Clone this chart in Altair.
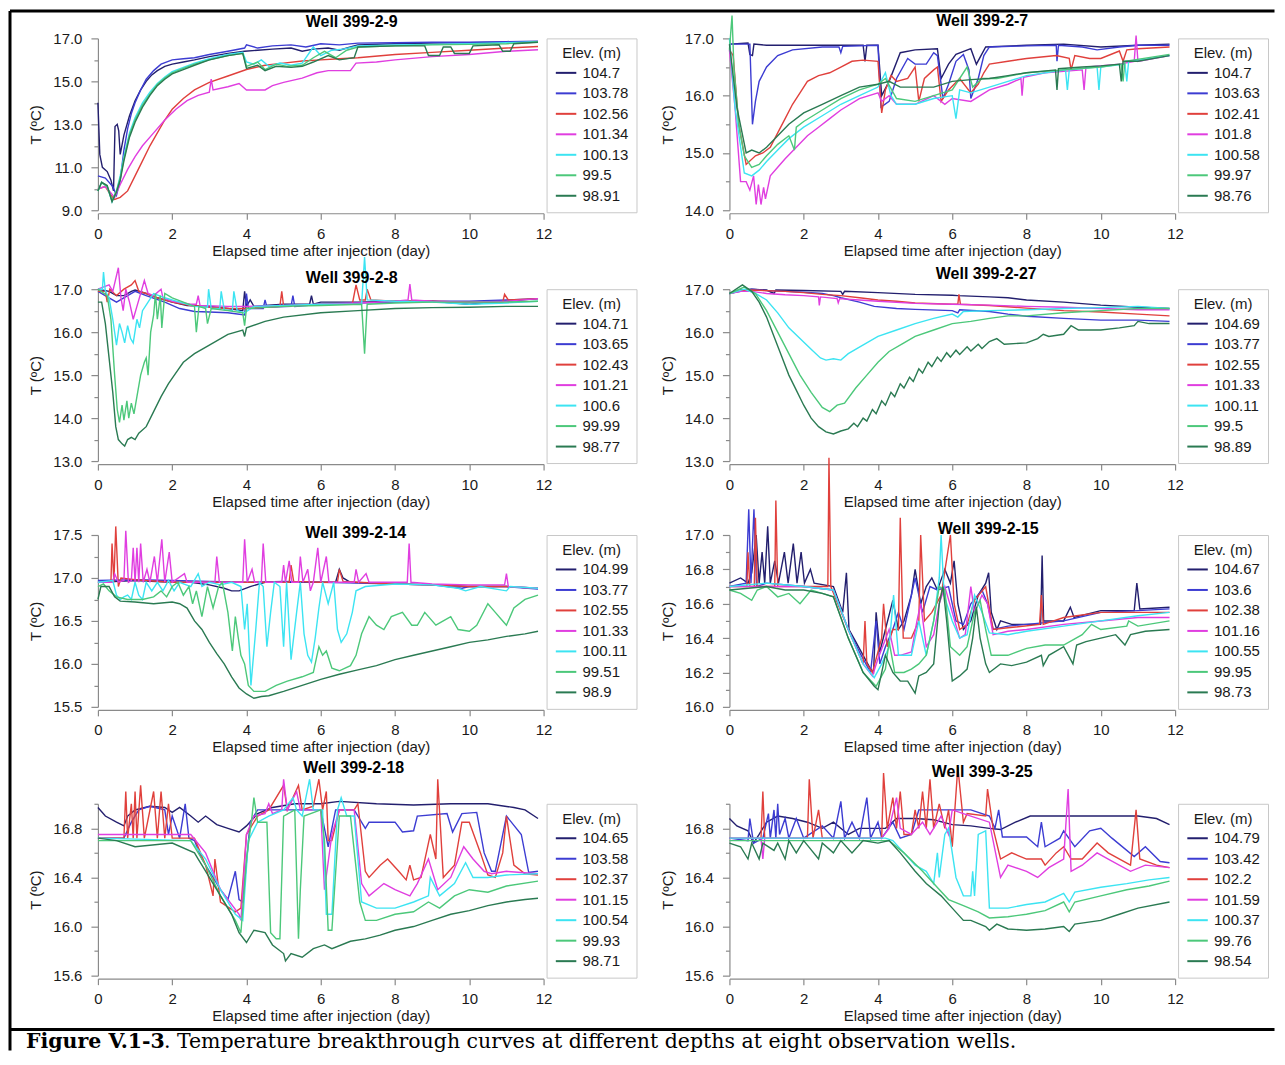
import altair as alt
import pandas as pd

SANS = "Liberation Sans"
SERIF = "DejaVu Serif"
COLORS = ["#231f6e", "#3c3cd2", "#e0403c", "#e03ee0", "#3ce4f2", "#4cc87a", "#2a7a52"]
X_TICKS = [0, 2, 4, 6, 8, 10, 12]
X_TITLE = "Elapsed time after injection (day)"
Y_TITLE = "T (ºC)"
LEGEND_TITLE = "Elev. (m)"
CAPTION_BOLD = "Figure V.1-3"
CAPTION_TEXT = ". Temperature breakthrough curves at different depths at eight observation wells."

# ---------------- Well 399-2-9 ----------------
W399_2_9 = {
    "104.7": [(0, 14.0), (0.05, 11.6), (0.12, 11.0), (0.25, 10.8), (0.35, 10.4), (0.42, 9.9), (0.46, 12.9), (0.52, 13.0), (0.56, 12.7), (0.6, 11.6), (0.7, 12.5), (0.85, 13.4), (1.0, 14.1), (1.15, 14.6), (1.3, 15.0), (1.45, 15.3), (1.6, 15.5), (1.8, 15.7), (2.0, 15.8), (2.3, 15.9), (2.6, 16.0), (3.0, 16.15), (3.5, 16.3), (3.95, 16.4), (4.3, 16.45), (4.7, 16.5), (5.2, 16.55), (5.5, 16.4), (5.8, 16.5), (6.2, 16.55), (6.5, 16.45), (6.8, 16.6), (7.0, 16.7), (8.0, 16.75), (9.0, 16.78), (10.0, 16.8), (11.0, 16.82), (11.85, 16.85)],
    "103.78": [(0, 10.6), (0.2, 10.5), (0.4, 10.1), (0.5, 9.7), (0.6, 10.4), (0.7, 11.8), (0.8, 12.8), (0.9, 13.5), (1.0, 14.0), (1.15, 14.6), (1.3, 15.1), (1.5, 15.5), (1.7, 15.8), (2.0, 16.0), (2.3, 16.05), (2.6, 16.1), (3.0, 16.25), (3.5, 16.4), (3.95, 16.55), (4.0, 16.7), (4.3, 16.55), (4.7, 16.65), (5.2, 16.7), (5.6, 16.6), (6.0, 16.75), (6.5, 16.7), (7.0, 16.78), (8.0, 16.8), (9.0, 16.82), (10.0, 16.82), (11.0, 16.85), (11.85, 16.87)],
    "102.56": [(0, 10.0), (0.2, 10.1), (0.35, 9.7), (0.45, 9.5), (0.6, 9.6), (0.8, 9.9), (1.0, 10.6), (1.2, 11.3), (1.4, 12.0), (1.6, 12.6), (1.8, 13.2), (2.0, 13.7), (2.3, 14.2), (2.6, 14.6), (3.0, 14.95), (3.5, 15.25), (4.0, 15.55), (4.5, 15.75), (5.0, 15.85), (5.5, 15.95), (6.0, 16.0), (6.5, 16.05), (7.0, 16.1), (8.0, 16.25), (9.0, 16.35), (10.0, 16.45), (11.0, 16.55), (11.85, 16.62)],
    "101.34": [(0, 10.0), (0.2, 10.1), (0.35, 9.8), (0.45, 9.6), (0.6, 10.2), (0.8, 10.9), (1.0, 11.5), (1.2, 12.0), (1.5, 12.6), (1.8, 13.2), (2.1, 13.7), (2.4, 14.1), (2.7, 14.35), (3.0, 14.5), (3.05, 15.1), (3.1, 14.6), (3.5, 14.75), (3.8, 14.9), (4.0, 14.6), (4.5, 14.6), (4.7, 14.8), (5.0, 14.95), (5.5, 15.15), (5.9, 15.4), (6.2, 15.5), (6.8, 15.5), (6.95, 15.85), (7.5, 15.9), (8.0, 16.0), (9.0, 16.15), (10.0, 16.25), (11.0, 16.4), (11.85, 16.47)],
    "100.13": [(0, 9.9), (0.1, 10.3), (0.25, 10.1), (0.38, 9.4), (0.5, 9.9), (0.6, 10.6), (0.7, 11.5), (0.85, 12.6), (1.0, 13.3), (1.2, 14.0), (1.4, 14.5), (1.6, 14.9), (1.8, 15.2), (2.0, 15.45), (2.3, 15.65), (2.6, 15.85), (3.0, 16.05), (3.5, 16.25), (3.9, 16.35), (4.0, 15.9), (4.2, 15.8), (4.4, 16.0), (4.6, 15.7), (4.9, 15.85), (5.2, 15.75), (5.5, 15.85), (5.8, 16.6), (6.0, 16.2), (6.3, 16.45), (6.6, 16.5), (7.0, 16.65), (8.0, 16.7), (9.0, 16.72), (10.0, 16.75), (11.0, 16.8), (11.85, 16.85)],
    "99.5": [(0, 9.9), (0.1, 10.3), (0.25, 10.1), (0.38, 9.45), (0.5, 9.9), (0.6, 10.5), (0.7, 11.4), (0.85, 12.5), (1.0, 13.2), (1.2, 13.9), (1.4, 14.4), (1.6, 14.85), (1.8, 15.15), (2.0, 15.4), (2.3, 15.6), (2.6, 15.8), (3.0, 16.0), (3.5, 16.2), (3.9, 16.3), (4.0, 15.7), (4.3, 15.9), (4.5, 15.55), (4.8, 15.8), (5.1, 15.7), (5.5, 15.75), (5.8, 16.1), (6.1, 16.4), (6.4, 16.1), (6.7, 16.45), (7.0, 16.6), (8.0, 16.65), (9.0, 16.7), (10.0, 16.72), (11.0, 16.75), (11.85, 16.83)],
    "98.91": [(0, 9.9), (0.1, 10.3), (0.25, 10.15), (0.38, 9.4), (0.5, 9.85), (0.6, 10.4), (0.7, 11.3), (0.85, 12.4), (1.0, 13.1), (1.2, 13.8), (1.4, 14.35), (1.6, 14.8), (1.8, 15.1), (2.0, 15.35), (2.3, 15.55), (2.6, 15.75), (3.0, 16.0), (3.5, 16.2), (3.9, 16.3), (4.0, 15.6), (4.3, 15.75), (4.5, 15.5), (4.8, 15.7), (5.2, 15.65), (5.5, 15.7), (5.8, 15.9), (6.2, 16.2), (6.5, 16.0), (6.9, 16.1), (7.0, 16.6), (8.0, 16.65), (8.8, 16.65), (8.9, 16.2), (9.2, 16.2), (9.3, 16.6), (9.5, 16.6), (9.6, 16.3), (10.0, 16.3), (10.1, 16.65), (10.8, 16.7), (10.9, 16.4), (11.1, 16.4), (11.2, 16.75), (11.85, 16.82)],
}

# ---------------- Well 399-2-7 ----------------
W399_2_7 = {
    "104.7": [(0, 16.9), (0.5, 16.92), (0.55, 16.72), (0.62, 16.7), (0.66, 16.9), (1.0, 16.88), (2.0, 16.88), (3.0, 16.88), (3.6, 16.88), (3.65, 16.6), (3.7, 16.88), (4.0, 16.88), (4.1, 16.0), (4.3, 16.25), (4.6, 16.75), (5.0, 16.8), (5.6, 16.82), (5.7, 16.3), (5.9, 16.55), (6.1, 16.72), (6.5, 16.82), (6.65, 16.55), (6.9, 16.85), (8.0, 16.88), (9.0, 16.9), (10.0, 16.85), (11.0, 16.88), (11.85, 16.9)],
    "103.63": [(0, 16.9), (0.55, 16.9), (0.62, 15.5), (0.7, 15.9), (0.8, 16.25), (1.0, 16.5), (1.3, 16.7), (1.7, 16.8), (2.5, 16.85), (2.95, 16.85), (3.0, 16.75), (3.05, 16.86), (4.0, 16.88), (4.08, 15.8), (4.3, 15.9), (4.5, 16.3), (4.8, 16.65), (5.0, 16.55), (5.3, 16.55), (5.5, 16.75), (5.6, 16.7), (5.75, 15.95), (5.9, 16.2), (6.1, 16.6), (6.3, 16.72), (6.45, 16.45), (6.5, 15.95), (6.7, 16.3), (6.85, 16.7), (7.0, 16.85), (8.0, 16.87), (8.8, 16.88), (8.82, 16.6), (8.86, 16.88), (9.5, 16.85), (9.9, 16.8), (10.5, 16.85), (11.0, 16.88), (11.85, 16.88)],
    "102.41": [(0, 16.8), (0.1, 16.7), (0.25, 15.5), (0.45, 14.8), (0.7, 14.95), (0.9, 15.0), (1.1, 15.1), (1.3, 15.35), (1.5, 15.6), (1.7, 15.85), (1.9, 16.05), (2.1, 16.25), (2.4, 16.35), (2.7, 16.4), (3.0, 16.5), (3.3, 16.6), (3.6, 16.62), (4.0, 16.6), (4.1, 15.7), (4.2, 16.1), (4.35, 16.35), (4.5, 16.25), (4.8, 16.3), (5.0, 16.5), (5.1, 15.9), (5.25, 16.3), (5.5, 16.45), (5.6, 16.5), (5.7, 15.9), (5.9, 16.1), (6.2, 16.3), (6.5, 16.05), (6.7, 16.2), (6.85, 16.4), (7.0, 16.55), (7.5, 16.6), (8.0, 16.65), (8.8, 16.7), (9.15, 16.65), (9.2, 16.45), (9.3, 16.7), (9.7, 16.65), (10.0, 16.65), (10.5, 16.78), (10.6, 16.6), (10.7, 16.8), (11.0, 16.82), (11.85, 16.85)],
    "101.8": [(0, 16.8), (0.15, 15.8), (0.3, 14.5), (0.45, 14.5), (0.55, 14.35), (0.65, 14.6), (0.72, 14.1), (0.78, 14.45), (0.85, 14.1), (0.92, 14.4), (0.97, 14.2), (1.1, 14.6), (1.3, 14.75), (1.5, 14.9), (1.8, 15.1), (2.1, 15.3), (2.4, 15.45), (2.7, 15.6), (3.0, 15.75), (3.5, 15.95), (4.0, 16.05), (4.1, 15.9), (4.3, 16.0), (4.5, 15.85), (5.0, 15.85), (5.5, 16.0), (5.8, 15.85), (6.0, 15.95), (6.5, 15.9), (7.0, 16.1), (7.5, 16.2), (7.85, 16.3), (7.88, 16.0), (7.92, 16.32), (8.5, 16.4), (9.5, 16.45), (9.55, 16.1), (9.6, 16.5), (10.5, 16.55), (10.9, 16.6), (10.95, 17.05), (11.0, 16.6), (11.85, 16.7)],
    "100.58": [(0, 17.0), (0.15, 15.8), (0.4, 14.65), (0.6, 14.6), (0.8, 14.7), (1.0, 14.85), (1.3, 15.05), (1.6, 15.25), (2.0, 15.45), (2.5, 15.65), (3.0, 15.85), (3.5, 16.0), (4.0, 16.15), (4.2, 16.4), (4.35, 16.0), (4.5, 15.85), (5.0, 15.85), (5.5, 15.95), (6.0, 16.0), (6.1, 15.6), (6.2, 16.1), (6.5, 16.05), (7.0, 16.15), (7.5, 16.25), (8.0, 16.35), (9.05, 16.45), (9.1, 16.1), (9.15, 16.45), (9.9, 16.5), (9.95, 16.1), (10.0, 16.5), (10.65, 16.55), (10.7, 16.25), (10.75, 16.6), (11.85, 16.7)],
    "99.97": [(0, 16.8), (0.07, 17.4), (0.12, 16.5), (0.25, 15.5), (0.4, 14.95), (0.6, 14.75), (0.8, 14.8), (1.0, 14.95), (1.3, 15.15), (1.6, 15.3), (1.75, 15.05), (1.8, 15.45), (2.0, 15.55), (2.5, 15.75), (3.0, 15.95), (3.5, 16.1), (4.0, 16.2), (4.2, 16.3), (4.5, 15.95), (5.0, 15.9), (5.5, 16.0), (6.0, 16.1), (6.4, 16.5), (6.55, 16.15), (6.8, 16.3), (7.2, 16.3), (8.0, 16.4), (9.0, 16.45), (10.0, 16.5), (10.55, 16.55), (10.6, 16.25), (10.65, 16.6), (11.85, 16.72)],
    "98.76": [(0, 16.9), (0.2, 15.8), (0.45, 15.0), (0.6, 15.05), (0.8, 15.0), (1.0, 15.1), (1.3, 15.3), (1.6, 15.5), (2.0, 15.7), (2.5, 15.85), (3.0, 16.0), (3.5, 16.15), (4.0, 16.2), (4.3, 16.25), (4.6, 16.15), (5.0, 16.15), (5.5, 16.15), (6.0, 16.25), (6.5, 16.28), (7.0, 16.3), (7.5, 16.35), (8.0, 16.4), (8.78, 16.45), (8.82, 16.1), (8.86, 16.47), (9.5, 16.5), (10.0, 16.52), (10.5, 16.55), (10.55, 16.25), (10.6, 16.6), (11.0, 16.6), (11.85, 16.7)],
}

# ---------------- Well 399-2-8 ----------------
W399_2_8 = {
    "104.71": [(0, 17.0), (0.3, 16.95), (0.5, 16.85), (0.7, 16.85), (0.9, 16.95), (1.0, 16.98), (1.3, 16.9), (1.6, 16.8), (2.0, 16.7), (2.4, 16.62), (3.0, 16.6), (3.5, 16.55), (3.9, 16.5), (3.95, 16.95), (4.0, 16.6), (4.1, 16.75), (4.2, 16.6), (4.5, 16.62), (5.0, 16.65), (5.7, 16.65), (5.75, 16.85), (5.8, 16.65), (6.0, 16.7), (7.0, 16.7), (8.0, 16.72), (9.0, 16.72), (10.0, 16.65), (11.0, 16.72), (11.85, 16.78)],
    "103.65": [(0, 16.95), (0.3, 16.8), (0.5, 16.7), (0.8, 16.85), (1.0, 16.95), (1.3, 16.85), (1.8, 16.7), (2.2, 16.55), (2.6, 16.48), (3.0, 16.47), (3.5, 16.45), (3.95, 16.4), (4.0, 16.9), (4.05, 16.55), (4.45, 16.55), (4.5, 16.75), (4.55, 16.58), (5.2, 16.6), (5.25, 16.85), (5.3, 16.6), (6.0, 16.65), (7.0, 16.68), (8.0, 16.7), (9.0, 16.72), (10.0, 16.72), (11.0, 16.75), (11.85, 16.78)],
    "102.43": [(0, 16.95), (0.2, 16.95), (0.25, 16.7), (0.32, 17.0), (0.5, 16.85), (0.7, 17.0), (0.9, 17.1), (1.0, 17.2), (1.1, 16.95), (1.3, 16.9), (1.6, 16.8), (2.0, 16.7), (2.5, 16.62), (3.0, 16.58), (3.5, 16.55), (4.0, 16.55), (4.9, 16.6), (4.95, 16.95), (5.0, 16.6), (6.0, 16.65), (6.85, 16.65), (6.95, 17.1), (7.05, 16.75), (7.2, 16.75), (7.25, 17.0), (7.35, 16.75), (8.0, 16.72), (9.0, 16.72), (10.0, 16.7), (10.9, 16.7), (10.95, 16.88), (11.05, 16.75), (11.85, 16.78)],
    "101.21": [(0, 17.0), (0.3, 17.1), (0.4, 16.95), (0.55, 17.5), (0.62, 16.8), (0.68, 16.5), (0.75, 17.0), (0.85, 16.7), (0.95, 16.3), (1.05, 16.6), (1.15, 16.9), (1.25, 17.2), (1.35, 16.9), (1.5, 16.85), (1.7, 17.0), (1.75, 16.8), (2.0, 16.72), (2.5, 16.65), (2.65, 16.65), (2.7, 16.85), (2.75, 16.62), (3.5, 16.6), (4.0, 16.6), (5.0, 16.62), (6.0, 16.65), (7.0, 16.68), (8.0, 16.72), (8.35, 16.75), (8.4, 17.12), (8.45, 16.75), (9.0, 16.72), (10.0, 16.7), (11.0, 16.72), (11.85, 16.78)],
    "100.6": [(0, 17.0), (0.12, 17.0), (0.15, 17.4), (0.2, 16.95), (0.3, 16.8), (0.4, 16.3), (0.5, 15.7), (0.58, 16.2), (0.65, 16.0), (0.72, 15.75), (0.8, 16.15), (0.88, 15.85), (0.95, 15.75), (1.05, 16.3), (1.12, 16.1), (1.2, 16.5), (1.35, 16.7), (1.5, 16.9), (1.8, 16.8), (2.2, 16.7), (2.6, 16.6), (2.95, 16.58), (2.98, 17.0), (3.05, 16.55), (3.28, 16.55), (3.32, 16.95), (3.4, 16.52), (3.62, 16.5), (3.66, 16.95), (3.75, 16.5), (3.95, 16.45), (4.2, 16.6), (5.0, 16.62), (6.0, 16.65), (7.1, 16.65), (7.18, 17.75), (7.25, 16.75), (8.0, 16.72), (9.0, 16.7), (10.0, 16.65), (11.0, 16.68), (11.85, 16.72)],
    "99.99": [(0, 17.0), (0.25, 16.85), (0.35, 16.3), (0.45, 15.0), (0.52, 14.2), (0.58, 13.9), (0.65, 14.3), (0.7, 13.95), (0.78, 14.4), (0.83, 14.0), (0.9, 14.35), (0.97, 14.1), (1.05, 14.5), (1.15, 15.0), (1.25, 15.3), (1.3, 15.4), (1.35, 15.0), (1.42, 16.0), (1.5, 16.4), (1.55, 16.9), (1.6, 16.3), (1.68, 16.85), (1.72, 16.1), (1.8, 16.9), (2.0, 16.8), (2.3, 16.7), (2.6, 16.6), (2.65, 16.0), (2.72, 16.6), (2.9, 16.55), (2.95, 16.2), (3.05, 16.55), (3.5, 16.5), (3.9, 16.45), (3.95, 16.15), (4.0, 16.55), (5.0, 16.6), (6.0, 16.62), (7.1, 16.65), (7.18, 15.5), (7.25, 16.65), (8.0, 16.68), (9.0, 16.7), (10.0, 16.7), (11.0, 16.7), (11.85, 16.72)],
    "98.77": [(0, 16.7), (0.1, 16.7), (0.2, 16.2), (0.3, 15.4), (0.4, 14.6), (0.48, 13.8), (0.55, 13.5), (0.65, 13.4), (0.72, 13.35), (0.8, 13.5), (0.9, 13.55), (1.0, 13.5), (1.1, 13.65), (1.3, 13.8), (1.5, 14.15), (1.7, 14.5), (1.9, 14.8), (2.1, 15.05), (2.3, 15.3), (2.6, 15.5), (3.0, 15.7), (3.5, 15.95), (3.9, 16.05), (3.95, 15.9), (4.0, 16.1), (4.5, 16.25), (5.0, 16.35), (6.0, 16.45), (7.0, 16.5), (8.0, 16.55), (9.0, 16.57), (10.0, 16.58), (11.0, 16.6), (11.85, 16.6)],
}

# ---------------- Well 399-2-27 ----------------
W399_2_27 = {
    "104.69": [(0, 16.9), (0.3, 16.98), (0.6, 17.0), (1.0, 16.98), (1.2, 16.9), (1.25, 16.98), (2.0, 16.97), (3.0, 16.95), (3.05, 16.88), (3.1, 16.95), (4.0, 16.92), (5.0, 16.88), (6.0, 16.86), (6.15, 16.85), (7.0, 16.82), (7.5, 16.8), (8.0, 16.75), (9.0, 16.7), (10.0, 16.63), (11.0, 16.58), (11.85, 16.55)],
    "103.77": [(0, 16.9), (0.3, 16.95), (0.6, 17.0), (1.0, 16.97), (1.5, 16.95), (2.0, 16.93), (2.5, 16.9), (2.8, 16.85), (3.0, 16.8), (3.5, 16.7), (3.9, 16.6), (4.5, 16.55), (5.0, 16.53), (6.0, 16.5), (6.15, 16.45), (6.2, 16.52), (7.0, 16.48), (7.5, 16.42), (8.0, 16.37), (9.0, 16.32), (10.0, 16.28), (11.0, 16.28), (11.85, 16.25)],
    "102.55": [(0, 16.9), (0.3, 16.97), (0.6, 16.98), (1.5, 16.95), (2.0, 16.92), (2.5, 16.88), (3.0, 16.85), (3.5, 16.8), (4.0, 16.75), (4.5, 16.72), (5.0, 16.68), (6.0, 16.65), (6.15, 16.65), (6.18, 16.88), (6.22, 16.65), (7.0, 16.62), (8.0, 16.56), (9.0, 16.5), (10.0, 16.47), (11.0, 16.42), (11.85, 16.38)],
    "101.33": [(0, 16.9), (0.3, 16.95), (0.6, 16.95), (1.0, 16.9), (1.5, 16.87), (2.0, 16.85), (2.4, 16.82), (2.42, 16.62), (2.45, 16.82), (2.9, 16.78), (2.93, 16.68), (2.97, 16.78), (3.5, 16.75), (4.0, 16.72), (5.0, 16.67), (6.0, 16.65), (7.0, 16.63), (8.0, 16.6), (9.0, 16.58), (10.0, 16.55), (11.0, 16.52), (11.85, 16.52)],
    "100.11": [(0, 16.9), (0.4, 17.0), (0.7, 16.9), (1.0, 16.75), (1.3, 16.45), (1.6, 16.1), (1.9, 15.85), (2.2, 15.6), (2.45, 15.4), (2.6, 15.35), (2.8, 15.38), (3.0, 15.35), (3.2, 15.5), (3.5, 15.65), (4.0, 15.9), (4.5, 16.05), (5.0, 16.2), (5.5, 16.32), (6.0, 16.42), (6.15, 16.35), (6.3, 16.48), (7.0, 16.5), (8.0, 16.52), (9.0, 16.55), (10.0, 16.57), (11.0, 16.6), (11.85, 16.55)],
    "99.5": [(0, 16.9), (0.4, 17.05), (0.7, 16.9), (1.0, 16.5), (1.3, 16.0), (1.6, 15.5), (1.9, 15.0), (2.2, 14.6), (2.5, 14.25), (2.7, 14.15), (2.9, 14.3), (3.1, 14.35), (3.4, 14.7), (3.7, 15.0), (4.0, 15.3), (4.3, 15.55), (4.7, 15.75), (5.0, 15.9), (5.5, 16.05), (6.0, 16.2), (6.5, 16.25), (7.0, 16.32), (7.5, 16.38), (8.0, 16.38), (9.0, 16.45), (10.0, 16.5), (11.0, 16.55), (11.85, 16.55)],
    "98.89": [(0, 16.9), (0.35, 17.1), (0.6, 16.95), (0.8, 16.7), (1.0, 16.35), (1.2, 15.9), (1.4, 15.45), (1.6, 15.0), (1.8, 14.65), (2.0, 14.3), (2.2, 14.0), (2.4, 13.8), (2.6, 13.68), (2.8, 13.63), (3.0, 13.7), (3.2, 13.75), (3.35, 13.88), (3.45, 13.8), (3.6, 14.0), (3.7, 13.93), (3.85, 14.2), (3.95, 14.1), (4.1, 14.4), (4.2, 14.3), (4.35, 14.6), (4.45, 14.5), (4.6, 14.8), (4.7, 14.7), (4.85, 14.95), (4.95, 14.85), (5.1, 15.15), (5.2, 15.05), (5.35, 15.3), (5.45, 15.2), (5.6, 15.42), (5.7, 15.32), (5.85, 15.52), (5.95, 15.42), (6.1, 15.58), (6.2, 15.48), (6.4, 15.66), (6.5, 15.56), (6.7, 15.72), (6.8, 15.62), (7.0, 15.78), (7.2, 15.85), (7.4, 15.72), (8.0, 15.75), (8.3, 15.85), (8.45, 15.95), (8.6, 15.9), (9.0, 15.95), (9.2, 16.15), (9.4, 16.05), (10.0, 16.05), (10.5, 16.1), (10.9, 16.15), (11.0, 16.25), (11.3, 16.2), (11.85, 16.2)],
}

# ---------------- Well 399-2-14 ----------------
W399_2_14 = {
    "104.99": [(0, 16.95), (1.0, 16.97), (2.0, 16.95), (2.5, 16.95), (3.0, 16.92), (3.4, 16.88), (3.6, 16.85), (3.8, 16.85), (4.1, 16.9), (4.5, 16.95), (5.5, 16.95), (6.4, 16.95), (6.5, 17.1), (6.6, 17.0), (6.8, 16.95), (8.0, 16.93), (9.0, 16.92), (10.0, 16.9), (11.0, 16.9), (11.85, 16.88)],
    "103.77": [(0, 16.97), (1.0, 16.98), (2.0, 16.97), (3.0, 16.96), (4.0, 16.95), (5.0, 16.96), (6.0, 16.95), (7.0, 16.94), (8.0, 16.93), (9.0, 16.92), (9.8, 16.88), (10.0, 16.9), (11.0, 16.9), (11.85, 16.87)],
    "102.55": [(0, 16.95), (0.35, 16.95), (0.38, 17.4), (0.43, 16.95), (0.48, 17.6), (0.55, 16.9), (0.62, 17.0), (1.0, 16.98), (2.0, 16.95), (3.0, 16.95), (4.0, 16.95), (5.15, 16.95), (5.2, 17.15), (5.27, 16.96), (6.0, 16.95), (6.45, 16.95), (6.5, 17.1), (6.6, 16.96), (7.0, 16.95), (8.0, 16.93), (9.0, 16.92), (10.0, 16.9), (11.0, 16.9), (11.85, 16.88)],
    "101.33": [(0, 16.95), (0.4, 16.95), (0.45, 17.05), (0.55, 16.95), (0.7, 16.97), (0.75, 17.55), (0.82, 16.95), (0.9, 16.97), (0.95, 17.35), (1.0, 16.95), (1.05, 17.35), (1.1, 16.95), (1.15, 17.4), (1.22, 16.95), (1.32, 17.1), (1.4, 16.95), (1.52, 17.25), (1.6, 16.95), (1.72, 17.45), (1.8, 16.95), (1.92, 17.3), (2.0, 16.95), (2.33, 17.05), (2.4, 16.95), (3.15, 16.95), (3.2, 17.25), (3.27, 16.95), (3.9, 16.95), (3.95, 17.45), (4.02, 16.95), (4.15, 17.1), (4.22, 16.95), (4.4, 16.95), (4.45, 17.4), (4.52, 16.95), (4.95, 16.95), (5.0, 17.15), (5.05, 16.95), (5.15, 17.2), (5.22, 16.95), (5.4, 16.95), (5.45, 17.25), (5.52, 16.95), (5.65, 17.1), (5.72, 16.85), (5.8, 16.95), (5.92, 17.35), (6.0, 16.95), (6.15, 17.25), (6.22, 16.95), (6.9, 16.95), (6.95, 17.1), (7.02, 16.95), (7.22, 17.05), (7.3, 16.95), (8.33, 16.95), (8.38, 17.4), (8.43, 16.95), (9.0, 16.93), (10.0, 16.92), (10.95, 16.92), (11.0, 17.05), (11.05, 16.9), (11.85, 16.88)],
    "100.11": [(0, 16.95), (0.4, 16.97), (0.5, 16.8), (0.6, 16.75), (0.7, 16.78), (0.8, 16.8), (0.9, 16.75), (1.0, 16.95), (1.1, 16.8), (1.2, 16.75), (1.3, 16.95), (1.45, 16.85), (1.6, 16.95), (1.75, 16.85), (1.9, 16.97), (2.05, 16.85), (2.2, 16.95), (2.5, 16.9), (2.7, 17.05), (2.8, 16.9), (3.0, 16.95), (3.3, 16.92), (3.6, 16.95), (3.85, 16.9), (3.95, 16.4), (4.02, 16.7), (4.12, 15.75), (4.25, 16.4), (4.35, 16.95), (4.45, 16.9), (4.55, 16.2), (4.65, 16.6), (4.75, 16.95), (4.9, 16.9), (5.0, 16.2), (5.08, 16.95), (5.2, 16.05), (5.35, 16.6), (5.45, 16.95), (5.55, 16.35), (5.65, 16.1), (5.75, 16.02), (5.85, 16.3), (5.95, 16.65), (6.05, 16.95), (6.2, 16.7), (6.35, 16.95), (6.45, 16.4), (6.55, 16.25), (6.7, 16.35), (6.85, 16.6), (6.95, 16.85), (7.2, 16.9), (8.0, 16.93), (9.0, 16.92), (9.7, 16.88), (9.9, 16.85), (10.3, 16.9), (11.0, 16.85), (11.1, 16.9), (11.85, 16.88)],
    "99.51": [(0, 16.9), (0.15, 16.93), (0.3, 16.85), (0.5, 16.78), (0.8, 16.75), (1.2, 16.75), (1.5, 16.78), (1.7, 16.85), (1.85, 16.78), (2.0, 16.9), (2.15, 16.95), (2.3, 16.8), (2.45, 16.9), (2.55, 16.7), (2.65, 16.85), (2.8, 16.55), (2.95, 16.9), (3.1, 16.65), (3.25, 16.9), (3.35, 16.95), (3.5, 16.6), (3.62, 16.15), (3.7, 16.55), (3.78, 16.3), (3.85, 16.1), (3.95, 16.0), (4.05, 15.75), (4.2, 15.68), (4.5, 15.68), (4.8, 15.75), (5.1, 15.8), (5.5, 15.85), (5.8, 15.9), (5.95, 16.2), (6.05, 16.1), (6.15, 16.15), (6.3, 15.95), (6.5, 15.92), (6.8, 15.98), (6.95, 16.1), (7.1, 16.35), (7.3, 16.55), (7.5, 16.45), (7.7, 16.4), (7.9, 16.55), (8.2, 16.6), (8.45, 16.45), (8.6, 16.45), (8.8, 16.6), (9.1, 16.45), (9.3, 16.5), (9.5, 16.55), (9.7, 16.4), (10.0, 16.38), (10.2, 16.45), (10.5, 16.7), (10.7, 16.6), (10.9, 16.5), (11.0, 16.45), (11.2, 16.65), (11.5, 16.75), (11.85, 16.8)],
    "98.9": [(0, 16.75), (0.08, 16.9), (0.3, 16.9), (0.45, 16.78), (0.6, 16.73), (1.0, 16.72), (1.5, 16.7), (2.0, 16.72), (2.2, 16.7), (2.4, 16.65), (2.6, 16.5), (2.8, 16.4), (3.0, 16.25), (3.2, 16.12), (3.4, 16.0), (3.6, 15.85), (3.8, 15.72), (4.0, 15.65), (4.2, 15.6), (4.4, 15.62), (4.6, 15.63), (5.0, 15.68), (5.5, 15.75), (6.0, 15.82), (6.5, 15.88), (7.0, 15.93), (7.5, 15.98), (8.0, 16.05), (8.5, 16.1), (9.0, 16.15), (9.5, 16.2), (10.0, 16.25), (10.5, 16.28), (11.0, 16.32), (11.5, 16.35), (11.85, 16.38)],
}

# ---------------- Well 399-2-15 ----------------
W399_2_15 = {
    "104.67": [(0, 16.72), (0.3, 16.75), (0.5, 16.72), (0.6, 16.78), (0.72, 17.0), (0.8, 16.72), (0.88, 16.9), (0.95, 16.72), (1.03, 17.05), (1.1, 16.72), (1.22, 16.85), (1.32, 16.72), (1.48, 16.9), (1.58, 16.72), (1.72, 16.95), (1.82, 16.72), (1.93, 16.9), (2.02, 16.72), (2.18, 16.8), (2.28, 16.72), (2.8, 16.7), (3.05, 16.55), (3.15, 16.78), (3.22, 16.45), (3.4, 16.38), (3.6, 16.3), (3.8, 16.22), (3.88, 16.2), (3.95, 16.55), (4.05, 16.32), (4.2, 16.45), (4.4, 16.62), (4.55, 16.45), (4.7, 16.5), (4.9, 16.65), (5.0, 16.8), (5.15, 16.6), (5.3, 16.7), (5.45, 16.75), (5.6, 16.68), (5.8, 16.8), (5.95, 16.72), (6.05, 16.85), (6.15, 16.6), (6.3, 16.45), (6.5, 16.5), (6.7, 16.65), (6.9, 16.72), (6.98, 16.78), (7.05, 16.55), (7.2, 16.45), (7.3, 16.5), (7.6, 16.48), (8.38, 16.48), (8.42, 16.88), (8.46, 16.5), (9.0, 16.5), (9.18, 16.58), (9.28, 16.52), (10.0, 16.56), (10.9, 16.56), (10.97, 16.72), (11.05, 16.57), (11.85, 16.58)],
    "103.6": [(0, 16.7), (0.45, 16.72), (0.52, 17.15), (0.58, 16.72), (0.66, 17.15), (0.73, 16.7), (1.0, 16.72), (2.0, 16.7), (2.8, 16.68), (3.2, 16.45), (3.5, 16.32), (3.8, 16.2), (3.95, 16.5), (4.05, 16.25), (4.2, 16.35), (4.4, 16.45), (4.55, 16.55), (4.7, 16.45), (4.85, 16.6), (5.0, 16.75), (5.2, 16.55), (5.4, 16.7), (5.6, 16.68), (5.9, 16.7), (6.1, 16.5), (6.3, 16.48), (6.5, 16.6), (6.8, 16.68), (6.95, 16.6), (7.1, 16.45), (7.5, 16.47), (8.0, 16.48), (9.0, 16.5), (10.0, 16.55), (11.0, 16.56), (11.85, 16.57)],
    "102.38": [(0, 16.7), (0.47, 16.7), (0.5, 16.9), (0.55, 16.7), (0.67, 16.7), (0.7, 17.1), (0.75, 16.7), (1.22, 16.7), (1.25, 17.2), (1.3, 16.7), (2.65, 16.7), (2.68, 17.45), (2.73, 16.7), (3.2, 16.45), (3.6, 16.25), (3.65, 16.5), (3.7, 16.25), (3.85, 16.2), (4.1, 16.4), (4.15, 16.6), (4.25, 16.35), (4.4, 16.45), (4.55, 16.45), (4.6, 17.1), (4.68, 16.4), (4.9, 16.4), (5.1, 16.5), (5.15, 17.0), (5.25, 16.5), (5.45, 16.55), (5.7, 16.65), (5.95, 17.0), (6.05, 16.6), (6.2, 16.45), (6.4, 16.48), (6.6, 16.62), (6.9, 16.7), (7.1, 16.45), (7.5, 16.46), (8.35, 16.48), (8.4, 16.65), (8.45, 16.48), (9.0, 16.52), (10.0, 16.55), (11.0, 16.55), (11.85, 16.55)],
    "101.16": [(0, 16.7), (1.0, 16.7), (2.0, 16.7), (2.8, 16.68), (3.2, 16.45), (3.6, 16.25), (3.85, 16.18), (4.0, 16.28), (4.3, 16.45), (4.45, 16.3), (4.6, 16.3), (4.9, 16.32), (5.05, 16.5), (5.15, 16.6), (5.3, 16.35), (5.5, 16.42), (5.65, 16.6), (5.8, 16.7), (6.0, 16.55), (6.2, 16.4), (6.35, 16.42), (6.5, 16.7), (6.6, 16.55), (6.8, 16.65), (6.95, 16.6), (7.1, 16.42), (7.5, 16.44), (8.0, 16.45), (9.0, 16.48), (10.0, 16.5), (11.0, 16.52), (11.85, 16.52)],
    "100.55": [(0, 16.7), (1.0, 16.72), (2.0, 16.7), (2.8, 16.68), (3.2, 16.45), (3.6, 16.25), (3.9, 16.17), (4.1, 16.25), (4.3, 16.35), (4.42, 16.65), (4.55, 16.3), (4.9, 16.3), (5.1, 16.5), (5.3, 16.3), (5.5, 16.5), (5.65, 16.75), (5.7, 17.0), (5.78, 16.65), (6.0, 16.5), (6.2, 16.4), (6.4, 16.42), (6.6, 16.65), (6.8, 16.55), (7.0, 16.43), (7.5, 16.42), (8.0, 16.44), (9.0, 16.47), (10.0, 16.5), (11.0, 16.53), (11.85, 16.55)],
    "99.95": [(0, 16.68), (0.3, 16.66), (0.6, 16.62), (0.75, 16.68), (1.0, 16.7), (1.3, 16.64), (1.6, 16.66), (1.9, 16.6), (2.2, 16.68), (2.5, 16.66), (2.8, 16.64), (3.2, 16.4), (3.6, 16.2), (3.95, 16.12), (4.2, 16.22), (4.3, 16.38), (4.45, 16.2), (4.7, 16.2), (4.9, 16.22), (5.1, 16.25), (5.3, 16.3), (5.5, 16.5), (5.65, 16.7), (5.8, 16.68), (5.95, 16.35), (6.2, 16.3), (6.4, 16.35), (6.6, 16.55), (6.75, 16.62), (6.9, 16.45), (7.05, 16.3), (7.5, 16.3), (8.0, 16.34), (8.5, 16.36), (9.0, 16.36), (9.5, 16.42), (9.75, 16.48), (10.0, 16.45), (10.7, 16.47), (10.75, 16.5), (11.0, 16.47), (11.85, 16.5)],
    "98.73": [(0, 16.68), (1.0, 16.7), (1.5, 16.68), (2.0, 16.68), (2.5, 16.66), (2.8, 16.64), (3.2, 16.4), (3.6, 16.2), (3.9, 16.12), (4.0, 16.1), (4.2, 16.3), (4.4, 16.2), (4.6, 16.15), (4.8, 16.15), (5.0, 16.08), (5.1, 16.18), (5.3, 16.2), (5.5, 16.25), (5.65, 16.6), (5.75, 16.7), (5.85, 16.5), (6.0, 16.15), (6.2, 16.18), (6.4, 16.22), (6.55, 16.4), (6.65, 16.58), (6.75, 16.4), (6.9, 16.25), (7.0, 16.2), (7.3, 16.25), (7.6, 16.24), (8.0, 16.26), (8.4, 16.3), (8.45, 16.24), (8.6, 16.3), (9.0, 16.35), (9.25, 16.25), (9.35, 16.36), (9.6, 16.38), (10.0, 16.4), (10.4, 16.42), (10.65, 16.36), (10.8, 16.42), (11.2, 16.44), (11.85, 16.45)],
}

# ---------------- Well 399-2-18 ----------------
W399_2_18 = {
    "104.65": [(0, 16.97), (0.2, 16.9), (0.5, 16.85), (0.7, 16.82), (0.8, 16.9), (1.0, 16.95), (1.4, 16.98), (1.8, 16.97), (2.0, 16.93), (2.2, 16.97), (2.5, 16.9), (2.7, 16.85), (2.9, 16.9), (3.2, 16.83), (3.5, 16.8), (3.8, 16.77), (4.0, 16.82), (4.3, 16.92), (4.7, 16.97), (5.3, 17.0), (6.0, 17.0), (6.5, 17.02), (7.5, 17.0), (8.5, 16.99), (9.5, 17.0), (10.5, 17.0), (11.2, 16.97), (11.5, 16.95), (11.85, 16.88)],
    "103.58": [(0, 16.72), (0.7, 16.72), (0.9, 16.85), (1.1, 16.95), (1.4, 16.98), (1.8, 16.95), (1.9, 16.75), (2.0, 16.9), (2.2, 16.72), (2.35, 17.0), (2.45, 16.72), (2.6, 16.7), (2.8, 16.55), (3.3, 16.3), (3.5, 16.22), (3.7, 16.45), (3.8, 16.22), (3.9, 16.2), (4.1, 16.85), (4.3, 16.95), (6.0, 16.95), (6.2, 16.65), (6.4, 16.95), (6.9, 16.95), (7.2, 16.8), (7.3, 16.85), (8.0, 16.85), (8.2, 16.77), (8.5, 16.78), (8.6, 16.9), (9.4, 16.92), (9.55, 16.77), (9.8, 16.92), (10.2, 16.93), (10.4, 16.6), (10.6, 16.45), (10.7, 16.45), (11.0, 16.9), (11.4, 16.75), (11.6, 16.44), (11.85, 16.45)],
    "102.37": [(0, 16.72), (0.7, 16.72), (0.75, 17.1), (0.8, 16.72), (0.9, 17.0), (0.95, 16.72), (1.0, 17.1), (1.05, 16.72), (1.15, 17.15), (1.25, 16.72), (1.5, 17.1), (1.6, 16.72), (1.7, 17.1), (1.8, 16.72), (1.9, 17.0), (2.0, 16.72), (2.6, 16.72), (2.9, 16.5), (3.1, 16.25), (3.15, 16.55), (3.3, 16.2), (3.7, 16.12), (3.85, 16.15), (4.0, 16.75), (4.3, 16.9), (4.6, 16.95), (5.0, 17.15), (5.1, 16.95), (5.4, 17.15), (5.5, 16.95), (5.8, 16.98), (5.95, 17.2), (6.05, 16.95), (6.15, 17.1), (6.2, 16.7), (6.3, 16.7), (6.5, 16.95), (6.9, 16.95), (7.0, 17.0), (7.2, 16.45), (7.3, 16.4), (7.6, 16.5), (7.8, 16.55), (8.1, 16.45), (8.3, 16.38), (8.4, 16.5), (8.5, 16.38), (8.7, 16.4), (8.95, 16.75), (9.1, 16.55), (9.15, 17.2), (9.3, 16.4), (9.6, 16.5), (9.8, 16.85), (10.0, 16.85), (10.3, 16.6), (10.5, 16.42), (10.7, 16.4), (10.9, 16.6), (11.0, 16.9), (11.2, 16.5), (11.5, 16.43), (11.85, 16.42)],
    "101.15": [(0, 16.75), (2.5, 16.75), (2.9, 16.6), (3.3, 16.3), (3.8, 16.1), (3.85, 16.05), (4.0, 16.75), (4.2, 16.9), (4.5, 16.92), (4.6, 17.0), (4.7, 16.92), (4.95, 16.95), (5.0, 17.2), (5.1, 16.95), (5.35, 17.1), (5.45, 16.95), (6.0, 16.95), (6.1, 16.3), (6.3, 16.75), (6.5, 16.95), (6.9, 16.95), (7.1, 16.35), (7.3, 16.25), (7.7, 16.35), (8.0, 16.3), (8.4, 16.25), (8.6, 16.35), (8.9, 16.55), (9.15, 16.3), (9.5, 16.4), (9.85, 16.65), (10.1, 16.55), (10.4, 16.45), (10.6, 16.43), (11.0, 16.45), (11.85, 16.43)],
    "100.54": [(0, 16.72), (2.5, 16.7), (2.9, 16.55), (3.3, 16.3), (3.7, 16.1), (3.9, 16.05), (4.05, 16.7), (4.3, 16.85), (4.6, 16.9), (5.0, 16.95), (5.25, 17.05), (5.35, 16.95), (5.5, 16.9), (5.7, 17.2), (5.8, 16.95), (6.05, 16.95), (6.15, 16.1), (6.3, 16.1), (6.45, 16.95), (6.55, 17.05), (6.7, 16.9), (6.9, 16.9), (7.1, 16.2), (7.5, 16.15), (8.0, 16.15), (8.5, 16.2), (8.9, 16.25), (8.95, 16.4), (9.2, 16.25), (9.6, 16.35), (9.9, 16.52), (10.1, 16.4), (10.5, 16.4), (11.0, 16.42), (11.85, 16.43)],
    "99.93": [(0, 16.7), (2.5, 16.7), (2.9, 16.5), (3.3, 16.25), (3.7, 16.05), (3.85, 15.95), (4.0, 16.55), (4.15, 16.9), (4.2, 17.05), (4.3, 16.85), (4.55, 16.85), (4.65, 15.95), (4.8, 15.9), (4.9, 15.9), (5.0, 16.9), (5.3, 16.95), (5.4, 15.9), (5.45, 16.3), (5.55, 16.9), (6.0, 16.95), (6.1, 16.7), (6.2, 15.97), (6.3, 15.97), (6.5, 16.9), (6.8, 16.9), (7.05, 16.2), (7.2, 16.05), (7.5, 16.05), (8.0, 16.1), (8.5, 16.12), (8.9, 16.2), (9.2, 16.15), (9.6, 16.25), (10.0, 16.3), (10.5, 16.28), (11.0, 16.33), (11.85, 16.37)],
    "98.71": [(0, 16.72), (0.5, 16.7), (1.0, 16.65), (2.0, 16.68), (2.6, 16.6), (2.7, 16.55), (2.8, 16.5), (3.2, 16.3), (3.6, 16.1), (3.8, 15.95), (4.0, 15.87), (4.2, 15.97), (4.5, 15.95), (4.7, 15.85), (5.0, 15.78), (5.05, 15.72), (5.2, 15.78), (5.5, 15.75), (5.8, 15.82), (6.1, 15.85), (6.3, 15.82), (6.8, 15.88), (7.2, 15.9), (7.6, 15.93), (8.0, 15.97), (8.5, 16.0), (9.0, 16.05), (9.5, 16.1), (10.0, 16.13), (10.5, 16.17), (11.0, 16.2), (11.5, 16.22), (11.85, 16.23)],
}

# ---------------- Well 399-3-25 ----------------
W399_3_25 = {
    "104.79": [(0, 16.88), (0.2, 16.82), (0.5, 16.78), (0.65, 16.68), (0.8, 16.75), (1.0, 16.85), (1.3, 16.9), (1.7, 16.88), (2.1, 16.85), (2.5, 16.8), (2.8, 16.85), (3.2, 16.75), (3.5, 16.8), (4.2, 16.8), (4.5, 16.88), (5.0, 16.88), (5.5, 16.87), (6.0, 16.83), (6.5, 16.82), (7.0, 16.8), (7.3, 16.79), (7.7, 16.85), (8.1, 16.9), (11.0, 16.9), (11.5, 16.88), (11.85, 16.83)],
    "103.42": [(0, 16.72), (0.5, 16.7), (0.55, 16.88), (0.65, 16.68), (0.9, 16.72), (1.05, 16.92), (1.1, 16.72), (1.2, 16.95), (1.25, 16.72), (1.3, 17.0), (1.35, 16.75), (1.5, 16.88), (1.6, 16.72), (1.8, 16.88), (2.0, 16.72), (2.5, 16.82), (2.8, 16.72), (3.0, 17.02), (3.1, 16.72), (3.3, 16.85), (3.5, 16.72), (3.7, 17.05), (3.8, 16.72), (4.0, 16.85), (4.1, 16.72), (4.4, 16.85), (4.6, 16.72), (4.9, 16.75), (5.1, 16.95), (6.5, 16.95), (7.0, 16.9), (7.15, 16.8), (7.25, 16.95), (7.35, 16.73), (8.0, 16.73), (8.3, 16.65), (8.4, 16.85), (8.5, 16.65), (8.9, 16.72), (9.0, 16.78), (9.3, 16.65), (9.7, 16.78), (10.0, 16.8), (10.3, 16.72), (10.9, 16.57), (11.2, 16.65), (11.6, 16.53), (11.85, 16.52)],
    "102.2": [(0, 16.72), (0.85, 16.72), (0.9, 17.1), (0.95, 16.72), (2.1, 16.72), (2.15, 17.2), (2.25, 16.72), (2.4, 16.95), (2.5, 16.72), (4.1, 16.72), (4.15, 17.25), (4.25, 16.8), (4.4, 17.05), (4.5, 16.8), (4.6, 17.1), (4.7, 16.75), (4.9, 16.75), (5.0, 16.95), (5.1, 16.8), (5.2, 17.1), (5.3, 16.8), (5.4, 17.2), (5.5, 16.8), (5.65, 17.0), (5.8, 16.8), (5.9, 16.95), (6.0, 16.65), (6.15, 17.3), (6.3, 16.85), (6.4, 16.92), (6.9, 16.9), (6.95, 17.12), (7.1, 16.8), (7.3, 16.55), (7.6, 16.6), (8.0, 16.55), (8.4, 16.55), (8.5, 16.5), (8.8, 16.6), (9.0, 16.65), (9.2, 16.55), (9.5, 16.55), (9.9, 16.68), (10.2, 16.6), (10.8, 16.5), (10.95, 16.95), (11.05, 16.55), (11.5, 16.5), (11.85, 16.48)],
    "101.59": [(0, 16.72), (0.85, 16.72), (0.9, 16.55), (0.95, 16.72), (4.1, 16.72), (4.3, 16.8), (4.5, 17.05), (4.6, 16.8), (4.9, 16.75), (5.2, 16.85), (5.4, 16.75), (5.7, 16.9), (5.9, 16.75), (6.0, 16.95), (6.5, 16.9), (7.0, 16.85), (7.2, 16.55), (7.3, 16.4), (7.5, 16.5), (8.0, 16.45), (8.3, 16.4), (8.6, 16.48), (9.0, 16.55), (9.12, 17.12), (9.2, 16.45), (9.5, 16.5), (9.9, 16.6), (10.2, 16.55), (10.8, 16.45), (11.2, 16.5), (11.85, 16.48)],
    "100.37": [(0, 16.72), (4.2, 16.72), (4.4, 16.7), (4.7, 16.6), (5.0, 16.5), (5.3, 16.45), (5.5, 16.35), (5.6, 16.6), (5.65, 16.4), (5.8, 16.75), (5.9, 16.8), (6.1, 16.4), (6.3, 16.25), (6.5, 16.25), (6.55, 16.45), (6.6, 16.25), (6.7, 16.75), (6.9, 16.78), (7.0, 16.15), (7.5, 16.15), (8.0, 16.18), (8.5, 16.2), (9.0, 16.27), (9.15, 16.2), (9.3, 16.28), (10.0, 16.32), (10.7, 16.35), (11.3, 16.38), (11.85, 16.4)],
    "99.76": [(0, 16.7), (4.3, 16.7), (4.7, 16.6), (5.2, 16.45), (5.5, 16.35), (5.9, 16.22), (6.3, 16.17), (6.7, 16.12), (7.0, 16.07), (7.5, 16.08), (8.0, 16.1), (8.5, 16.13), (9.0, 16.2), (9.15, 16.12), (9.3, 16.2), (10.0, 16.25), (10.7, 16.3), (11.3, 16.33), (11.85, 16.37)],
    "98.54": [(0, 16.68), (0.3, 16.65), (0.5, 16.55), (0.6, 16.68), (0.8, 16.55), (0.9, 16.68), (1.2, 16.62), (1.3, 16.68), (1.5, 16.55), (1.6, 16.7), (1.8, 16.6), (2.0, 16.7), (2.4, 16.55), (2.5, 16.68), (2.8, 16.6), (3.0, 16.7), (3.3, 16.6), (3.6, 16.7), (4.0, 16.68), (4.3, 16.7), (4.6, 16.6), (5.0, 16.45), (5.3, 16.35), (5.7, 16.25), (6.0, 16.15), (6.3, 16.05), (6.5, 16.05), (6.9, 16.0), (7.0, 15.97), (7.2, 16.02), (7.5, 15.98), (8.0, 15.97), (8.5, 15.98), (9.0, 16.0), (9.15, 15.96), (9.3, 16.02), (10.0, 16.05), (10.5, 16.1), (11.0, 16.15), (11.85, 16.2)],
}

# panel settings: title, series, y-domain, labelled ticks, minor ticks, title position (px)
PANELS = [
    ("Well 399-2-9", W399_2_9, [9, 17], [9, 11, 13, 15, 17], [10, 12, 14, 16], 254, -16),
    ("Well 399-2-7", W399_2_7, [14, 17], [14, 15, 16, 17], [14.5, 15.5, 16.5], 253, -17),
    ("Well 399-2-8", W399_2_8, [13, 17], [13, 14, 15, 16, 17], [13.5, 14.5, 15.5, 16.5], 254, -11),
    ("Well 399-2-27", W399_2_27, [13, 17], [13, 14, 15, 16, 17], [13.5, 14.5, 15.5, 16.5], 257, -15),
    ("Well 399-2-14", W399_2_14, [15.5, 17.5], [15.5, 16.0, 16.5, 17.0, 17.5], [15.75, 16.25, 16.75, 17.25], 258, -2),
    ("Well 399-2-15", W399_2_15, [16.0, 17.0], [16.0, 16.2, 16.4, 16.6, 16.8, 17.0], [16.1, 16.3, 16.5, 16.7, 16.9], 259, -6),
    ("Well 399-2-18", W399_2_18, [15.6, 17.0], [15.6, 16.0, 16.4, 16.8], [15.8, 16.2, 16.6, 17.0], 256, -36),
    ("Well 399-3-25", W399_3_25, [15.6, 17.0], [15.6, 16.0, 16.4, 16.8], [15.8, 16.2, 16.6, 17.0], 253, -32),
]

PW, PH = 446, 172
ROW_SPACING = 4
GAPS = [71, 66, 89]   # blank strip heights between the rows of panels


def one_value(v):
    return pd.DataFrame({"v": [v]})


def rule(x1, y1, x2, y2, w=3):
    return alt.Chart(one_value(0)).mark_rule(color="black", strokeWidth=w).encode(
        x=alt.value(x1), y=alt.value(y1), x2=alt.value(x2), y2=alt.value(y2)
    )


def spacer(h):
    return alt.Chart(one_value(0)).mark_point(opacity=0).encode(
        x=alt.value(0), y=alt.value(0)
    ).properties(width=PW, height=h)


def make_panel(title, series, ydom, majors, minors, tx, ty, extra=()):
    labels = list(series.keys())
    rows = []
    for lab in labels:
        for j, (x, y) in enumerate(series[lab]):
            rows.append({"x": x, "y": y, "elev": lab, "j": j})
    df = pd.DataFrame(rows)
    vals = sorted(majors + minors)
    maj = "[" + ",".join("'%.1f'" % v for v in majors) + "]"
    is_major = "indexof(%s, format(datum.value, '.1f')) >= 0" % maj
    lines = alt.Chart(df).mark_line(strokeWidth=1.4).encode(
        x=alt.X("x:Q", scale=alt.Scale(domain=[0, 12], nice=False, zero=False),
                axis=alt.Axis(values=X_TICKS, format="d", title=X_TITLE, offset=3,
                              tickSize=6, labelPadding=7, titlePadding=2)),
        y=alt.Y("y:Q", scale=alt.Scale(domain=ydom, nice=False, zero=False),
                axis=alt.Axis(values=vals, title=Y_TITLE,
                              labelExpr="%s ? format(datum.value, '.1f') : ''" % is_major,
                              tickSize={"condition": {"test": is_major, "value": 7}, "value": 4},
                              labelPadding=9, titlePadding=9)),
        color=alt.Color("elev:N", scale=alt.Scale(domain=labels, range=COLORS),
                        legend=alt.Legend(title=LEGEND_TITLE)),
        order=alt.Order("j:Q"),
    )
    ttl = alt.Chart(pd.DataFrame({"t": [title]})).mark_text(
        font=SANS, fontSize=16, fontWeight="bold", align="center", baseline="middle", color="black"
    ).encode(text="t:N", x=alt.value(tx), y=alt.value(ty))
    return alt.layer(lines, ttl, *extra).properties(width=PW, height=PH)


# frame and caption (pixel offsets relative to the first panel's plot area)
FRAME_L, FRAME_T, FRAME_R, FRAME_B, FRAME_END = -88, -27.5, 1177.5, 992, 1013
CAP_Y, CAP_X, CAP_X2, CAP_SIZE = 1010, -72, 66, 20.5
decor = [
    rule(FRAME_L, FRAME_T, FRAME_L, FRAME_END),
    rule(FRAME_L, FRAME_T, FRAME_R, FRAME_T),
    rule(FRAME_L, FRAME_B, FRAME_R, FRAME_B),
    alt.Chart(pd.DataFrame({"t": [CAPTION_BOLD]})).mark_text(
        font=SERIF, fontSize=CAP_SIZE, fontWeight="bold", align="left", baseline="alphabetic", color="black"
    ).encode(text="t:N", x=alt.value(CAP_X), y=alt.value(CAP_Y)),
    alt.Chart(pd.DataFrame({"t": [CAPTION_TEXT]})).mark_text(
        font=SERIF, fontSize=CAP_SIZE, align="left", baseline="alphabetic", color="black"
    ).encode(text="t:N", x=alt.value(CAP_X2), y=alt.value(CAP_Y)),
]

panels = [make_panel(*p, extra=decor if k == 0 else ()) for k, p in enumerate(PANELS)]

cells = []
for r in range(4):
    cells += [panels[2 * r], panels[2 * r + 1]]
    if r < 3:
        cells += [spacer(GAPS[r]), spacer(GAPS[r])]

chart = alt.concat(
    *cells, columns=2, spacing={"row": ROW_SPACING, "column": 186}, bounds="flush", align="each"
).resolve_scale(
    color="independent", x="independent", y="independent"
).resolve_legend(color="independent").properties(padding=0).configure(
    font=SANS
).configure_view(stroke="transparent").configure_axis(
    domainColor="#8a8a8a", tickColor="#8a8a8a", labelColor="#1a1a1a", titleColor="#1a1a1a",
    labelFont=SANS, titleFont=SANS, labelFontSize=15, titleFontSize=15, titleFontWeight="normal",
    grid=False, domainWidth=1.2, tickWidth=1.2, labelFlush=False, labelOverlap=False
).configure_legend(
    orient="right", offset=3, strokeColor="#c8c8c8", fillColor="white", padding=8,
    titleFont=SANS, titleFontSize=15, titleFontWeight="normal", titleAnchor="middle", titleColor="#1a1a1a",
    labelFont=SANS, labelFontSize=15, labelColor="#1a1a1a", symbolType="stroke", symbolStrokeWidth=2,
    symbolSize=420, rowPadding=0.5, labelOffset=5, titlePadding=0
)

chart.save("out.html", embed_options={"renderer": "svg", "actions": False})
